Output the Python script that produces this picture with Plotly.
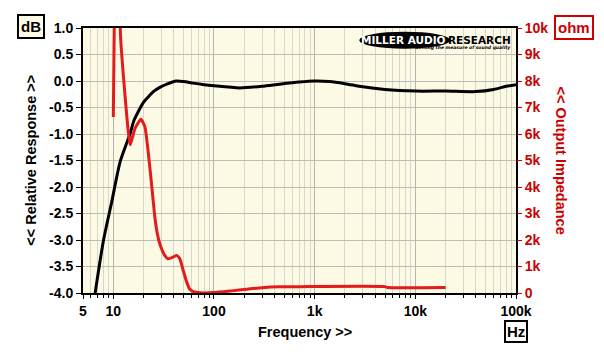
import plotly.graph_objects as go

# ---------------- data ----------------
freq_db = [6.6, 8.0, 9.7, 11.7, 14.7, 16.0, 20, 22, 25, 29, 35, 42, 50, 62, 80, 100,
           180, 300, 450, 700, 1000, 1400, 2000, 3000, 5000, 10000, 20000, 40000,
           60000, 80000, 100000]
resp_db = [-4.0, -3.0, -2.26, -1.52, -0.99, -0.75, -0.40, -0.31, -0.20, -0.12, -0.05,
           0.0, -0.01, -0.04, -0.07, -0.09, -0.13, -0.10, -0.06, -0.02, 0.0, -0.01,
           -0.05, -0.11, -0.16, -0.19, -0.19, -0.20, -0.16, -0.10, -0.07]

freq_ohm = [10, 10.9, 11.8, 14.0, 14.7, 16.4, 18.8, 20.6, 22.2, 24.0, 25.9, 27.4, 29,
            32.4, 35, 39.2, 42.5, 45.8, 49.4, 53.5, 57.6, 62.5, 72.6, 100, 150, 211,
            300, 450, 700, 5000, 5300, 20000]
imp_ohm = [6640, 18000, 9700, 6190, 5590, 6200, 6560, 6270, 5340, 4090, 2850, 2230,
           1850, 1420, 1290, 1350, 1420, 1290, 860, 420, 140, 50, 10, 15, 80, 140,
           200, 235, 240, 240, 210, 210]

x_tick_vals = [5, 10, 100, 1000, 10000, 100000]
x_tick_text = ["5", "10", "100", "1k", "10k", "100k"]
x_minor_vals = [6, 7, 8, 9, 20, 30, 40, 50, 60, 70, 80, 90,
                200, 300, 400, 500, 600, 700, 800, 900,
                2000, 3000, 4000, 5000, 6000, 7000, 8000, 9000,
                20000, 30000, 40000, 50000, 60000, 70000, 80000, 90000]
db_tick_vals = [1.0, 0.5, 0.0, -0.5, -1.0, -1.5, -2.0, -2.5, -3.0, -3.5, -4.0]
db_tick_text = ["1.0", "0.5", "0.0", "-0.5", "-1.0", "-1.5", "-2.0", "-2.5",
                "-3.0", "-3.5", "-4.0"]
ohm_tick_vals = [0, 1000, 2000, 3000, 4000, 5000, 6000, 7000, 8000, 9000, 10000]
ohm_tick_text = ["0", "1k", "2k", "3k", "4k", "5k", "6k", "7k", "8k", "9k", "10k"]

# ---------------- styles ----------------
RED_LINE = "#e31b1b"
RED_TXT = "#cc0000"
BG = "#fcf9e4"
FONT = "Liberation Sans"
tickfont = dict(family=FONT, size=14, color="black", weight="bold")

fig = go.Figure()
fig.add_trace(go.Scatter(x=freq_db, y=resp_db, mode="lines",
                         line=dict(color="black", width=3, shape="spline", smoothing=0.7),
                         yaxis="y", showlegend=False, hoverinfo="skip"))
fig.add_trace(go.Scatter(x=freq_ohm, y=imp_ohm, mode="lines",
                         line=dict(color=RED_LINE, width=3, shape="spline", smoothing=0.5),
                         yaxis="y2", showlegend=False, hoverinfo="skip"))

# the page body adds an 8px margin, so the figure is 8px smaller each way
fig.update_layout(
    width=596, height=353,
    margin=dict(l=75, r=88, t=17, b=68, pad=0),
    paper_bgcolor="white", plot_bgcolor=BG,
    showlegend=False,
    xaxis=dict(type="log", range=[0.69897, 5.0],
               tickmode="array", tickvals=x_tick_vals, ticktext=x_tick_text,
               tickfont=tickfont, ticks="outside", ticklen=4, tickcolor="black",
               showgrid=True, gridcolor="#b4b4b0", gridwidth=1,
               showline=True, linecolor="black", linewidth=2, mirror=True,
               zeroline=False,
               minor=dict(tickmode="array", tickvals=x_minor_vals, ticks="outside",
                          ticklen=3, tickcolor="black", showgrid=True,
                          gridcolor="#d8d7cc", gridwidth=1)),
    yaxis=dict(range=[-4.0, 1.0], tickmode="array", tickvals=db_tick_vals,
               ticktext=db_tick_text, tickfont=tickfont, ticks="outside", ticklen=5,
               tickcolor="black", showgrid=True, gridcolor="#bdbdb8", gridwidth=1,
               showline=True, linecolor="black", linewidth=2, mirror=True,
               zeroline=False),
    yaxis2=dict(range=[0, 10000], overlaying="y", side="right", tickmode="array",
                tickvals=ohm_tick_vals, ticktext=ohm_tick_text,
                tickfont=dict(family=FONT, size=14, color=RED_TXT, weight="bold"),
                ticks="outside", ticklen=5, tickcolor=RED_TXT, showgrid=False,
                showline=False, zeroline=False),
)

annots = [
    dict(text="<< Relative Response >>", x=-0.122, y=0.5, textangle=-90,
         font=dict(family=FONT, size=14.5, color="black", weight="bold")),
    dict(text="<< Output Impedance", x=1.104, y=0.5, textangle=90,
         font=dict(family=FONT, size=14.5, color=RED_TXT, weight="bold")),
    dict(text="Frequency >>", x=0.513, y=-0.1455,
         font=dict(family=FONT, size=14.5, color="black", weight="bold")),
    dict(text="dB", x=-0.120, y=1.004, bgcolor=BG, bordercolor="black",
         borderwidth=2, borderpad=2,
         font=dict(family=FONT, size=15, color="black", weight="bold")),
    dict(text="ohm", x=1.134, y=1.002, bgcolor="white", bordercolor=RED_TXT,
         borderwidth=2, borderpad=2,
         font=dict(family=FONT, size=15, color=RED_TXT, weight="bold")),
    dict(text="Hz", x=1.001, y=-0.147, bgcolor="white", bordercolor="black",
         borderwidth=2, borderpad=1,
         font=dict(family=FONT, size=15, color="black", weight="bold")),
]
for a in annots:
    fig.add_annotation(xref="paper", yref="paper", showarrow=False,
                       xanchor="center", yanchor="middle", **a)

# logo
fig.add_shape(type="circle", xref="paper", yref="paper", x0=0.638, x1=0.848,
              y0=0.922, y1=0.986, fillcolor="black", line=dict(width=0), layer="above")
fig.add_annotation(xref="paper", yref="paper", x=0.843, y=0.955, xanchor="right",
                   yanchor="middle", showarrow=False, text="MILLER AUDIO",
                   font=dict(family="DejaVu Sans", size=10.5, color="white", weight="bold"))
fig.add_annotation(xref="paper", yref="paper", x=0.993, y=0.955, xanchor="right",
                   yanchor="middle", showarrow=False, text="RESEARCH",
                   font=dict(family="DejaVu Sans", size=10.5, color="black", weight="bold"))
fig.add_annotation(xref="paper", yref="paper", x=0.993, y=0.925, xanchor="right",
                   yanchor="middle", showarrow=False,
                   text="<i>Getting the measure of sound quality</i>",
                   font=dict(family="DejaVu Sans", size=4.5, color="black", weight="bold"))

fig.write_html("out.html")
